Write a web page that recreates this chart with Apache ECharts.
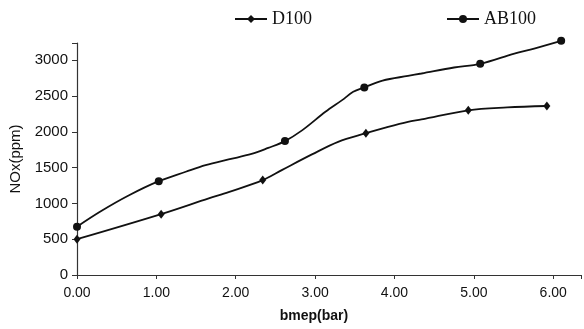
<!DOCTYPE html>
<html>
<head>
<meta charset="utf-8">
<script src="https://cdn.jsdelivr.net/npm/echarts@6/dist/echarts.min.js"></script>
<style>html,body{margin:0;padding:0;background:#fff}#c{width:584px;height:329px}</style>
</head>
<body>
<div id="c"></div>
<script>
// Values: x = bmep (bar), y = NOx (ppm)
const seriesNames = ['D100', 'AB100'];
const d100Markers = [[0, 500], [1.06, 850], [2.34, 1325], [3.64, 1980], [4.93, 2300], [5.92, 2360]];
const d100Curve = [[1.66, 1070], [1.91, 1158], [2.58, 1465], [2.96, 1684], [3.29, 1860], [3.92, 2069], [4.17, 2139], [4.34, 2172], [5.42, 2340]];
const ab100Markers = [[0, 675], [1.03, 1310], [2.62, 1870], [3.62, 2620], [5.08, 2950], [6.10, 3270]];
const ab100Curve = [[0.3, 890], [0.65, 1110], [1.37, 1442], [1.62, 1535], [1.91, 1614], [2.2, 1690], [2.41, 1775], [2.84, 2023], [3.13, 2279], [3.34, 2442], [3.48, 2558], [3.85, 2715], [4.17, 2781], [4.34, 2814], [4.75, 2898], [5.51, 3093], [5.76, 3163]];
const xTickValues = [0, 1, 2, 3, 4, 5, 6];
const yTickValues = [0, 500, 1000, 1500, 2000, 2500, 3000];

function build(marks, curve) {
  const pts = marks.map(p => ({ value: p }))
    .concat(curve.map(p => ({ value: p, symbol: 'none' })));
  pts.sort((a, b) => a.value[0] - b.value[0]);
  return pts;
}

const chart = echarts.init(document.getElementById('c'));
const lineColor = '#111';
chart.setOption({
  backgroundColor: '#fff',
  animation: false,
  legend: {
    data: seriesNames,
    left: 229,
    top: 5,
    itemWidth: 32,
    itemHeight: 10,
    itemGap: 134,
    textStyle: { fontFamily: 'Liberation Serif', fontSize: 18, color: '#111' }
  },
  grid: { left: 77, right: 0, top: 43, bottom: 54, containLabel: false },
  xAxis: {
    type: 'value',
    min: 0,
    max: 6.35,
    interval: 1,
    name: 'bmep(bar)',
    nameLocation: 'middle',
    nameGap: 34,
    nameTextStyle: { fontFamily: 'Liberation Sans', fontSize: 14, fontWeight: 'bold', color: '#111', padding: [0, 30, 0, 0] },
    axisLine: { lineStyle: { color: '#333', width: 1.2 } },
    axisTick: { show: true, length: 4, lineStyle: { color: '#333' } },
    axisLabel: {
      margin: 11,
      fontFamily: 'Liberation Sans', fontSize: 14, color: '#111',
      formatter: v => xTickValues.indexOf(v) >= 0 ? v.toFixed(2) : ''
    },
    splitLine: { show: false }
  },
  yAxis: {
    type: 'value',
    min: 0,
    max: 3240,
    interval: 500,
    name: 'NOx(ppm)',
    nameLocation: 'middle',
    nameGap: 52,
    nameTextStyle: { fontFamily: 'Liberation Sans', fontSize: 15, color: '#111' },
    axisLine: { show: true, lineStyle: { color: '#333', width: 1.2 } },
    axisTick: { show: true, length: 5, lineStyle: { color: '#333' } },
    axisLabel: {
      margin: 9,
      fontFamily: 'Liberation Sans', fontSize: 15, color: '#111',
      formatter: v => yTickValues.indexOf(v) >= 0 ? String(v) : ''
    },
    splitLine: { show: false }
  },
  series: [
    {
      name: 'D100', type: 'line', smooth: 0.35, clip: false,
      symbol: 'diamond', symbolSize: [7, 9], showAllSymbol: true,
      lineStyle: { color: lineColor, width: 1.8 },
      itemStyle: { color: lineColor },
      data: build(d100Markers, d100Curve)
    },
    {
      name: 'AB100', type: 'line', smooth: 0.35, clip: false,
      symbol: 'circle', symbolSize: 8, showAllSymbol: true,
      lineStyle: { color: lineColor, width: 1.8 },
      itemStyle: { color: lineColor },
      data: build(ab100Markers, ab100Curve)
    }
  ]
});
</script>
</body>
</html>
